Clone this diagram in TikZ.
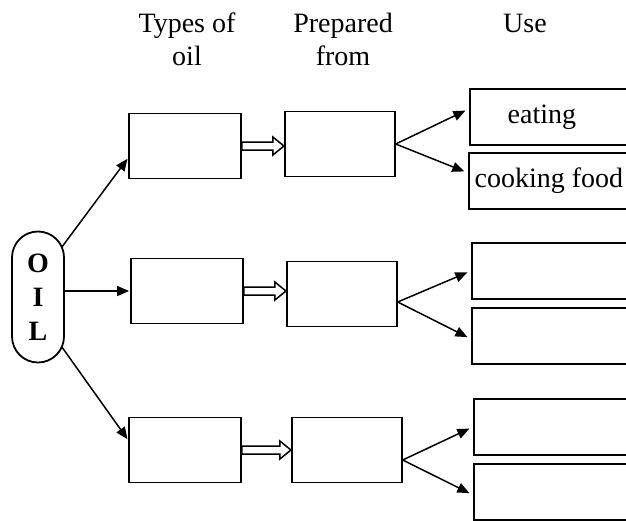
\documentclass[tikz,border=0pt]{standalone}
\usepackage{fontspec}
\setmainfont{Liberation Serif}
\usetikzlibrary{arrows.meta, positioning, calc}

\begin{document}
\begin{tikzpicture}[
            x = 1pt, y = -1pt, % pixel grid, y pointing down
            > = {Triangle[length=12pt, width=10pt]}, % arrow head style
            shorten > = 1pt, % don't touch arrow head to node
            font = \fontsize{28}{33}\selectfont
        ]

        \tikzstyle{box}=[
            draw = black,
            line width = 1.8pt,
            minimum width = 112pt,
            minimum height = 65pt,
            inner sep = 0pt
        ]
        \tikzstyle{usebox}=[box, minimum width = 170pt, minimum height = 56pt, anchor = north west]
        \tikzstyle{oilbox}=[box, rounded corners = 26pt, minimum width = 52pt, minimum height = 131pt,
            align = center, font = \fontsize{28}{34}\selectfont\bfseries]
        \tikzstyle{arr}=[->, line width = 1.5pt]
        \tikzstyle{hollow}=[draw = black, line width = 1.5pt, fill = white, line join = miter]

        \useasboundingbox (0,0) rectangle (626,520);
        \clip (0,0) rectangle (626,520);

        % headings
        \node[align = center] (h1) at (187,39) {Types of\\oil};
        \node[align = center] (h2) at (343,39) {Prepared\\from};
        \node[anchor = base] (h3) at (525,32) {Use};

        \node[oilbox] (oil) at (38,297) {O\\I\\L};

        \node[box] (t1) at (185,146) {};
        \node[box] (t2) at (187,291) {};
        \node[box] (t3) at (185,450) {};

        \node[box, minimum width = 110pt, right = 42pt of t1, yshift = 2pt] (p1) {};
        \node[box, minimum width = 110pt, right = 42pt of t2, yshift = -3pt] (p2) {};
        \node[box, minimum width = 110pt, right = 49pt of t3] (p3) {};

        \node[usebox] (u1a) at (469,88) {eating\hspace*{26pt}};
        \node[usebox] (u1b) at (468,152) {cooking food\hspace*{10pt}};
        \node[usebox] (u2a) at (471,242) {};
        \node[usebox] (u2b) at (471,307) {};
        \node[usebox] (u3a) at (473,398) {};
        \node[usebox] (u3b) at (473,463) {};

        \draw[arr] ([xshift=-3pt, yshift=50pt]oil.east) -- ([yshift=-12pt]t1.west);
        \draw[arr] (t2.west -| oil.east) -- (t2.west);
        \draw[arr] ([xshift=-3pt, yshift=-50pt]oil.east) -- ([yshift=10pt]t3.west);

        \foreach \r in {1,2,3} {
            \coordinate (tip\r) at (t\r.east -| p\r.west);
            \draw[hollow] (tip\r) -- ++(-11,-9) -- ++(0,5) -- ($(t\r.east)+(0,-4)$)
                -- ++(0,8) -- ($(tip\r)+(-11,4)$) -- ++(0,5) -- cycle;
        }

        \draw[arr, shorten > = 4pt] (p1.east) -- ([yshift=8pt]u1a.west);
        \draw[arr, shorten > = 4pt] (p1.east) -- ([yshift=8pt]u1b.west);
        \draw[arr, shorten > = 4pt] ([yshift=-8pt]p2.east) -- (u2a.west);
        \draw[arr, shorten > = 4pt] ([yshift=-8pt]p2.east) -- ([yshift=-3pt]u2b.west);
        \draw[arr, shorten > = 4pt] ([yshift=-10pt]p3.east) -- (u3a.west);
        \draw[arr, shorten > = 4pt] ([yshift=-10pt]p3.east) -- ([yshift=-3pt]u3b.west);
    \end{tikzpicture}
\end{document}
